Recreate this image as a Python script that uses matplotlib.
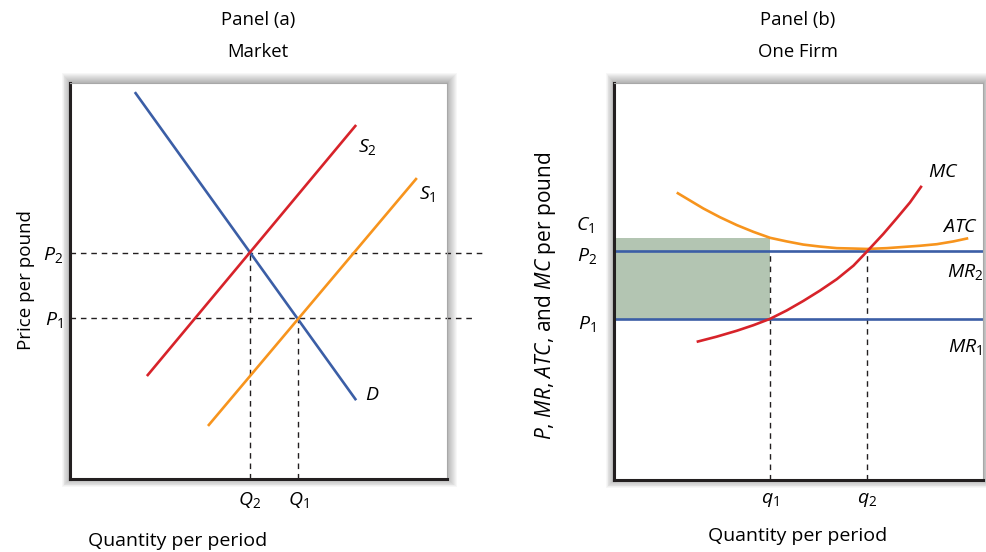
import matplotlib
matplotlib.use("Agg")
import matplotlib.pyplot as plt
from matplotlib.patches import Rectangle
import matplotlib.transforms as mtransforms

plt.rcParams['font.family'] = ['Open Sans', 'DejaVu Sans']
plt.rcParams['mathtext.fontset'] = 'custom'
plt.rcParams['mathtext.rm'] = 'Open Sans'
plt.rcParams['mathtext.it'] = 'Open Sans:italic'

# ---------------- Panel (a) data (0-100 units) ----------------
demand_x = [17.2, 75.9]
demand_y = [97.7, 19.9]
s2_x = [20.4, 75.9]
s2_y = [26.0, 89.4]
s1_x = [36.6, 92.0]
s1_y = [13.4, 76.0]
P1_a, P2_a = 40.7, 57.1
Q2_a, Q1_a = 47.7, 60.5
p2_dash_end, p1_dash_end = 109.5, 106.9

# ---------------- Panel (b) data (0-100 units) ----------------
atc_x = [17.0, 20.6, 24.2, 28.7, 33.3, 37.8, 42.3, 46.8, 51.3, 55.8,
         60.4, 64.9, 68.5, 73.9, 78.4, 82.9, 87.5, 92.0, 96.0]
atc_y = [72.4, 70.4, 68.4, 66.2, 64.2, 62.5, 61.0, 60.1, 59.3, 58.8,
         58.4, 58.3, 58.2, 58.4, 58.7, 59.0, 59.4, 60.1, 60.9]
mc_x = [22.4, 27.8, 33.3, 37.8, 42.3, 46.8, 51.3, 55.8, 60.4, 64.9,
        68.5, 73.0, 76.6, 80.2, 83.4]
mc_y = [34.8, 36.1, 37.6, 39.0, 40.6, 42.7, 45.1, 47.7, 50.6, 54.0,
        57.5, 62.0, 65.9, 69.9, 74.1]
MR2, MR1, C1 = 57.7, 40.6, 61.0
q1, q2 = 42.3, 68.5

BLUE = '#3b5ea6'
RED = '#d7232a'
ORANGE = '#f7941d'
SHADE = '#b3c5b2'
DARK = '#231f20'
FS = 14

W, H = 986, 552
fig = plt.figure(figsize=(W / 100, H / 100), dpi=100)

def px_rect(l, t, r, b):
    return [l / W, 1 - b / H, (r - l) / W, (b - t) / H]

def add_shadow(l, t, r, b):
    for i in range(1, 11):
        rect = Rectangle(((l - i * 0.8) / W, 1 - (b + i * 0.8) / H),
                         (r - l + i * 1.8) / W, (b - t + i * 1.8) / H,
                         transform=fig.transFigure, facecolor='black',
                         edgecolor='none', alpha=0.03, zorder=0)
        fig.patches.append(rect)

def style_axes(ax):
    ax.set_xlim(0, 100)
    ax.set_ylim(0, 100)
    for s in ['left', 'bottom']:
        ax.spines[s].set_color(DARK)
        ax.spines[s].set_linewidth(2.2)
    for s in ['top', 'right']:
        ax.spines[s].set_color('#a8a8a8')
        ax.spines[s].set_linewidth(0.8)
    ax.tick_params(length=0)
    ax.set_facecolor('white')

# ---------------- Panel (a) ----------------
add_shadow(70, 83, 447, 479)
ax1 = fig.add_axes(px_rect(70, 83, 447, 479))
style_axes(ax1)
ax1.set_zorder(2)
dash = dict(color=DARK, lw=1.0, dashes=(4, 3.5), clip_on=False, zorder=1)
ax1.plot([0, p2_dash_end], [P2_a, P2_a], **dash)
ax1.plot([0, p1_dash_end], [P1_a, P1_a], **dash)
ax1.plot([Q2_a, Q2_a], [0, P2_a], **dash)
ax1.plot([Q1_a, Q1_a], [0, P1_a], **dash)
ax1.plot(demand_x, demand_y, color=BLUE, lw=1.9, solid_capstyle='butt', zorder=3)
ax1.plot(s2_x, s2_y, color=RED, lw=1.9, solid_capstyle='butt', zorder=3)
ax1.plot(s1_x, s1_y, color=ORANGE, lw=1.9, solid_capstyle='butt', zorder=3)

ax1.set_yticks([P1_a, P2_a])
ax1.set_yticklabels([r'$P_1$', r'$P_2$'], fontsize=FS)
ax1.set_xticks([Q2_a, Q1_a])
ax1.set_xticklabels([r'$Q_2$', r'$Q_1$'], fontsize=FS)
ax1.tick_params(axis='y', pad=5)
ax1.tick_params(axis='x', pad=8)
ax1.set_ylabel('Price per pound', fontsize=13.5)
ax1.yaxis.set_label_coords(-0.092, 0.503)

ax1.text(79.0, 83.8, r'$S_2$', fontsize=FS, ha='center', va='center')
ax1.text(94.7, 72.0, r'$S_1$', fontsize=FS, ha='center', va='center')
ax1.text(80.1, 21.2, r'$D$', fontsize=FS, ha='center', va='center')

fig.text(258 / W, 1 - 20 / H, 'Panel (a)', ha='center', va='center', fontsize=13.3)
fig.text(258 / W, 1 - 52 / H, 'Market', ha='center', va='center', fontsize=13.3)
fig.text(178 / W, 1 - 541 / H, 'Quantity per period', ha='center', va='center', fontsize=14)

# ---------------- Panel (b) ----------------
add_shadow(614, 83, 983, 480)
ax2 = fig.add_axes(px_rect(614, 83, 983, 480))
style_axes(ax2)
ax2.set_zorder(2)
ax2.add_patch(Rectangle((0, MR1), q1, C1 - MR1, facecolor=SHADE, edgecolor='none', zorder=1))
ax2.plot([q1, q1], [0, MR2], **dash)
ax2.plot([q2, q2], [0, MR2], **dash)
ax2.axhline(MR2, color=BLUE, lw=1.9, zorder=2)
ax2.axhline(MR1, color=BLUE, lw=1.9, zorder=2)
ax2.plot(atc_x, atc_y, color=ORANGE, lw=1.9, solid_capstyle='butt', zorder=3)
ax2.plot(mc_x, mc_y, color=RED, lw=1.9, solid_capstyle='butt', zorder=4)

ax2.set_xticks([q1, q2])
ax2.set_xticklabels([r'$q_1$', r'$q_2$'], fontsize=FS)
ax2.tick_params(axis='x', pad=8)
ax2.set_yticks([])
trans = mtransforms.blended_transform_factory(ax2.transAxes, ax2.transData)
ax2.text(-0.078, C1 + 3.2, r'$C_1$', transform=trans, fontsize=FS, ha='center', va='center')
ax2.text(-0.072, MR2 - 1.2, r'$P_2$', transform=trans, fontsize=FS, ha='center', va='center')
ax2.text(-0.072, MR1 - 1.2, r'$P_1$', transform=trans, fontsize=FS, ha='center', va='center')
ax2.set_ylabel(r'$P$, $MR$, $ATC$, and $MC$ per pound', fontsize=15)
ax2.yaxis.set_label_coords(-0.152, 0.465)

ax2.text(89.2, 77.6, r'$MC$', fontsize=FS, ha='center', va='center')
ax2.text(93.8, 63.7, r'$ATC$', fontsize=FS, ha='center', va='center')
ax2.text(95.1, 52.4, r'$MR_2$', fontsize=FS, ha='center', va='center')
ax2.text(95.1, 33.5, r'$MR_1$', fontsize=FS, ha='center', va='center')

fig.text(798 / W, 1 - 20 / H, 'Panel (b)', ha='center', va='center', fontsize=13.3)
fig.text(798 / W, 1 - 52 / H, 'One Firm', ha='center', va='center', fontsize=13.3)
fig.text(798 / W, 1 - 536 / H, 'Quantity per period', ha='center', va='center', fontsize=14)

fig.savefig('out.png', dpi=100, facecolor='white')
